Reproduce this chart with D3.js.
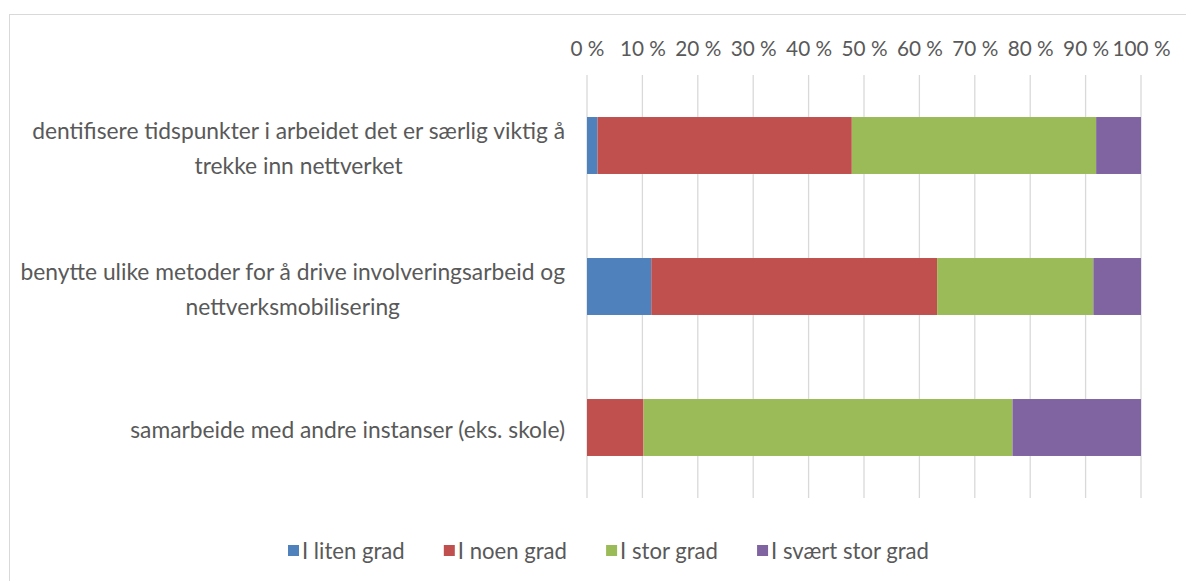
<!DOCTYPE html>
<html>
<head>
<meta charset="utf-8">
<script src="https://cdn.jsdelivr.net/npm/d3@7"></script>
<style>
  body { margin: 0; background: #fff; }
  svg text { font-family: Lato, "Open Sans", sans-serif; fill: #595959; }
</style>
</head>
<body>
<div id="chart"></div>
<script>
// data (percent of answers)
const categories = [
    "dentifisere tidspunkter i arbeidet det er særlig viktig å trekke inn nettverket",
    "benytte ulike metoder for å drive involveringsarbeid og nettverksmobilisering",
    "samarbeide med andre instanser (eks. skole)"
];
const seriesNames = ["I liten grad", "I noen grad", "I stor grad", "I svært stor grad"];
const litenGrad = [1.9, 11.6, 0];
const noenGrad = [45.9, 51.6, 10.2];
const storGrad = [44.1, 28.2, 66.6];
const sværtStorGrad = [8.1, 8.6, 23.2];
const tickValues = [0, 10, 20, 30, 40, 50, 60, 70, 80, 90, 100];
const colors = ["#4f81bd", "#c0504d", "#9bbb59", "#8064a2"];

const width = 1186, height = 581;

const svg = d3.select("#chart")
    .append("svg")
    .attr("width", width)
    .attr("height", height);

// chart border
svg.append("rect")
    .attr("x", 9.5).attr("y", 14.5)
    .attr("width", 1200).attr("height", 600)
    .style("fill", "none")
    .style("stroke", "#d9d9d9");

// fit the font sizes so texts get about the width they have in the picture
function textWidth(str, size) {
    const probe = svg.append("text").style("font-size", size + "px").text(str);
    const w = probe.node().getComputedTextLength();
    probe.remove();
    return w;
}
function fitSize(str, target) {
    return 18 * target / textWidth(str, 18);
}
const fontSize = fitSize(categories[2], 435);
const legendSize = fitSize(seriesNames[3], 158);
const tickSize = fitSize("10\u00a0%", 46);

const xScale = d3.scaleLinear().domain([0, 100]).range([587, 1141]);
const yScale = d3.scaleBand().domain(categories).range([75, 498])
    .paddingInner(0.596).paddingOuter(0.298);

// gridlines
svg.append("g").selectAll("line")
    .data(tickValues)
    .join("line")
    .attr("x1", d => xScale(d)).attr("x2", d => xScale(d))
    .attr("y1", 75).attr("y2", 498)
    .style("stroke", "#d9d9d9")
    .style("stroke-width", 1.3);

// top axis labels
const axis = svg.append("g")
    .attr("transform", "translate(0,56)")
    .call(d3.axisTop(xScale).tickValues(tickValues).tickSize(0).tickPadding(0)
        .tickFormat(d => d + "\u00a0%"));
axis.select(".domain").remove();
axis.selectAll("text").style("font-size", tickSize + "px").style("font-family", null);

// stacked bars
const stackData = categories.map((c, i) => {
    const vals = [litenGrad[i], noenGrad[i], storGrad[i], sværtStorGrad[i]];
    const o = { cat: c };
    seriesNames.forEach((s, j) => o[s] = vals[j]);
    return o;
});
const stacked = d3.stack().keys(seriesNames)(stackData);

svg.append("g").selectAll("g")
    .data(stacked)
    .join("g")
    .style("fill", (d, i) => colors[i])
    .selectAll("rect")
    .data(d => d)
    .join("rect")
    .attr("x", d => xScale(d[0]))
    .attr("width", d => xScale(d[1]) - xScale(d[0]))
    .attr("y", d => yScale(d.data.cat))
    .attr("height", yScale.bandwidth());

// category labels, wrapped, block right aligned, lines centred
const lineH = fontSize * 1.5;
categories.forEach(cat => {
    const words = cat.split(" ");
    const lines = [];
    let cur = [];
    words.forEach(w => {
        if (textWidth(cur.concat(w).join(" "), fontSize) > 565 && cur.length) {
            lines.push(cur.join(" "));
            cur = [w];
        } else {
            cur.push(w);
        }
    });
    lines.push(cur.join(" "));
    const blockW = d3.max(lines, l => textWidth(l, fontSize));
    const cx = 565 - blockW / 2;
    const cy = yScale(cat) + yScale.bandwidth() / 2 + 3;
    svg.append("text")
        .attr("text-anchor", "middle")
        .style("font-size", fontSize + "px")
        .selectAll("tspan")
        .data(lines)
        .join("tspan")
        .attr("x", cx)
        .attr("y", (d, i) => cy + (i - (lines.length - 1) / 2) * lineH)
        .attr("dy", "0.35em")
        .text(d => d);
});

// legend, spread between the left and right ends it has in the picture
const legendW = seriesNames.map(s => textWidth(s, legendSize));
const legendGap = (929 - 288 - d3.sum(legendW) - 14 * seriesNames.length) / (seriesNames.length - 1);
let lx = 288;
const legend = svg.append("g");
seriesNames.forEach((s, i) => {
    legend.append("rect")
        .attr("x", lx).attr("y", 545)
        .attr("width", 11).attr("height", 11)
        .style("fill", colors[i]);
    legend.append("text")
        .attr("x", lx + 14).attr("y", 551)
        .attr("dy", "0.35em")
        .style("font-size", legendSize + "px")
        .text(s);
    lx += 14 + legendW[i] + legendGap;
});
</script>
</body>
</html>
